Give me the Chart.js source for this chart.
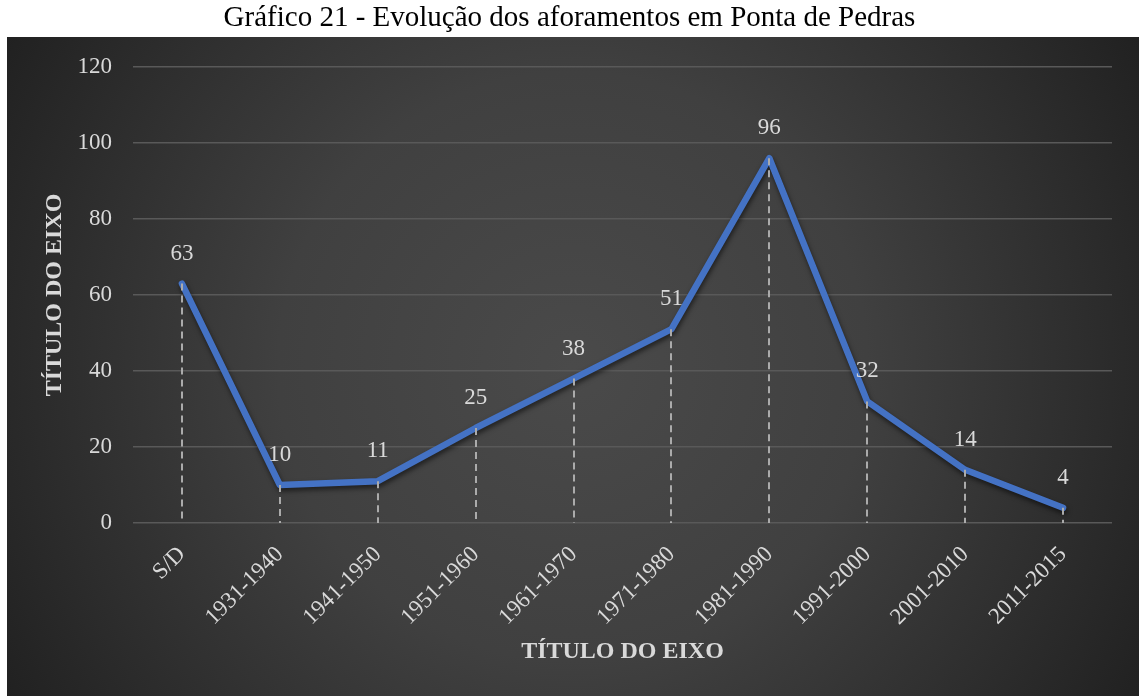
<!DOCTYPE html>
<html>
<head>
<meta charset="utf-8">
<script src="https://cdn.jsdelivr.net/npm/chart.js@4/dist/chart.umd.min.js"></script>
<style>
  html, body { margin: 0; padding: 0; background: #ffffff; }
  #wrap { position: relative; width: 1139px; height: 696px; }
</style>
</head>
<body>
<div id="wrap"><canvas id="c" width="1139" height="696"></canvas></div>
<script>
// Periods and number of aforamentos per period
const periods = ['S/D', '1931-1940', '1941-1950', '1951-1960', '1961-1970',
                 '1971-1980', '1981-1990', '1991-2000', '2001-2010', '2011-2015'];
const aforamentos = [63, 10, 11, 25, 38, 51, 96, 32, 14, 4];
const yTicks = [0, 20, 40, 60, 80, 100, 120];

const chartTitle = 'Gráfico 21 - Evolução dos aforamentos em Ponta de Pedras';
const axisTitle = 'TÍTULO DO EIXO';

const SERIF = '"Liberation Serif", "Times New Roman", serif';
const LIGHT = '#d9d9d9';

// Dark radial-gradient panel behind the plot
const panelBackground = {
  id: 'panelBackground',
  beforeDraw(chart) {
    const ctx = chart.ctx;
    const x0 = 7, y0 = 37, w = chart.width - x0, h = chart.height - y0;
    const cx = x0 + w / 2, cy = y0 + h / 2;
    const g = ctx.createRadialGradient(cx, cy, 0, cx, cy, Math.hypot(w, h) / 2);
    g.addColorStop(0, '#4a4a4a');
    g.addColorStop(0.45, '#404040');
    g.addColorStop(1, '#212121');
    ctx.save();
    ctx.fillStyle = g;
    ctx.fillRect(x0, y0, w, h);
    ctx.restore();
  }
};

// Soft shadow under the series line
const lineShadow = {
  id: 'lineShadow',
  beforeDatasetDraw(chart) {
    const ctx = chart.ctx;
    ctx.save();
    ctx.shadowColor = 'rgba(0,0,0,0.55)';
    ctx.shadowBlur = 5;
    ctx.shadowOffsetX = 1;
    ctx.shadowOffsetY = 3;
  },
  afterDatasetDraw(chart) {
    chart.ctx.restore();
  }
};

// Dashed drop lines from each point down to the category axis
const dropLines = {
  id: 'dropLines',
  afterDatasetsDraw(chart) {
    const ctx = chart.ctx;
    const meta = chart.getDatasetMeta(0);
    const bottom = chart.chartArea.bottom;
    ctx.save();
    ctx.strokeStyle = '#ababab';
    ctx.lineWidth = 2;
    ctx.setLineDash([7, 5]);
    meta.data.forEach(pt => {
      const x = Math.round(pt.x);
      ctx.beginPath();
      ctx.moveTo(x, pt.y);
      ctx.lineTo(x, bottom);
      ctx.stroke();
    });
    ctx.restore();
  }
};

// Value labels above each point
const valueLabels = {
  id: 'valueLabels',
  afterDatasetsDraw(chart) {
    const ctx = chart.ctx;
    const meta = chart.getDatasetMeta(0);
    const values = chart.data.datasets[0].data;
    ctx.save();
    ctx.fillStyle = LIGHT;
    ctx.font = '23px ' + SERIF;
    ctx.textAlign = 'center';
    ctx.textBaseline = 'middle';
    meta.data.forEach((pt, i) => {
      ctx.fillText(String(values[i]), pt.x, pt.y - 30);
    });
    ctx.restore();
  }
};

new Chart(document.getElementById('c'), {
  type: 'line',
  data: {
    labels: periods,
    datasets: [{
      data: aforamentos,
      borderColor: '#4472c4',
      borderWidth: 6.5,
      borderJoinStyle: 'round',
      borderCapStyle: 'round',
      pointRadius: 0,
      pointHoverRadius: 0,
      tension: 0,
      fill: false
    }]
  },
  options: {
    responsive: false,
    animation: false,
    devicePixelRatio: 1,
    layout: { padding: 0 },
    plugins: {
      legend: { display: false },
      tooltip: { enabled: false },
      title: {
        display: true,
        text: chartTitle,
        color: '#000000',
        font: { family: SERIF, size: 29, weight: 'normal', lineHeight: 1.2 },
        padding: { top: 1, bottom: 31.2 }
      }
    },
    scales: {
      x: {
        offset: true,
        afterFit(scale) { scale.height = 173; },
        grid: { display: false, drawTicks: false },
        border: { display: false },
        ticks: {
          color: LIGHT,
          font: { family: SERIF, size: 23 },
          minRotation: 45,
          maxRotation: 45,
          autoSkip: false,
          padding: 18
        },
        title: {
          display: true,
          text: axisTitle,
          color: LIGHT,
          font: { family: SERIF, size: 24, weight: 'bold', lineHeight: 1.2 },
          padding: { top: 0, bottom: 30 }
        }
      },
      y: {
        min: 0,
        max: 120,
        afterFit(scale) { scale.width = 133; },
        afterBuildTicks(scale) { scale.ticks = yTicks.map(v => ({ value: v })); },
        grid: { color: '#595959', lineWidth: 1.5, drawTicks: false },
        border: { display: false },
        ticks: {
          color: LIGHT,
          font: { family: SERIF, size: 23 },
          padding: 21
        },
        title: {
          display: true,
          text: axisTitle,
          color: LIGHT,
          font: { family: SERIF, size: 24, weight: 'bold', lineHeight: 1.2 },
          padding: { top: 40, bottom: 0 }
        }
      },
      // empty right-hand margin so the plot ends short of the panel edge
      margin: {
        type: 'linear',
        position: 'right',
        afterFit(scale) { scale.width = 27; },
        grid: { display: false, drawTicks: false },
        border: { display: false },
        ticks: { display: false }
      }
    }
  },
  plugins: [panelBackground, lineShadow, dropLines, valueLabels]
});
</script>
</body>
</html>
